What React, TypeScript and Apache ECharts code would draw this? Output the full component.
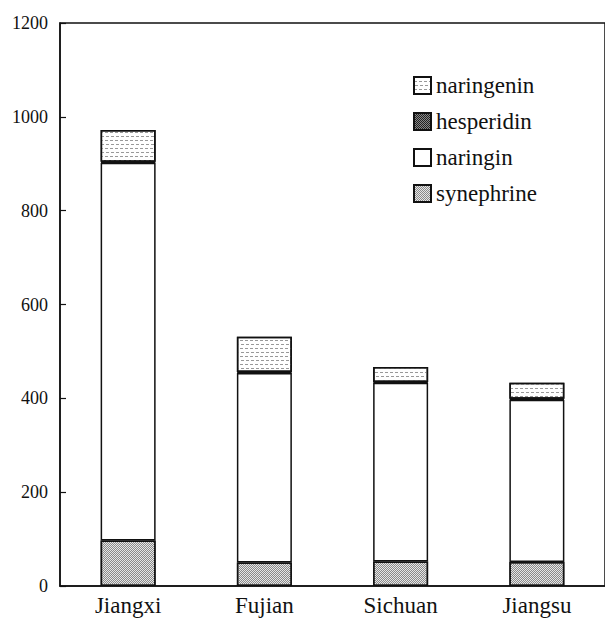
import React, { useEffect, useRef } from "react";
import * as echarts from "echarts";

const categories = ["Jiangxi", "Fujian", "Sichuan", "Jiangsu"];
const synephrine = [97, 50, 52, 51];
const naringin = [805, 404, 381, 346];
const hesperidin = [2, 2, 2, 2];
const naringenin = [68, 75, 32, 34];
const yTicks = [0, 200, 400, 600, 800, 1000, 1200];

const FONT = "Liberation Serif";

export default function App() {
  const ref = useRef<HTMLDivElement>(null);
  useEffect(() => {
    if (!ref.current) return;
    const chart = echarts.init(ref.current, null, { renderer: "svg" });
    const border = { borderColor: "#111", borderWidth: 1.5 };
    const mk = (name: string, data: number[], itemStyle: any) => ({
      name,
      type: "bar",
      stack: "total",
      data,
      barWidth: 55,
      itemStyle: { ...border, ...itemStyle },
      emphasis: { disabled: true },
    });
    chart.setOption({
      animation: false,
      textStyle: { fontFamily: FONT },
      grid: {
        left: 60,
        top: 23,
        bottom: 33,
        right: -2,
        show: true,
        borderColor: "#111",
        borderWidth: 1.5,
        backgroundColor: "transparent",
      },
      legend: {
        orient: "vertical",
        left: 413,
        top: 74,
        padding: 0,
        icon: "rect",
        itemWidth: 17,
        itemHeight: 17,
        itemGap: 13,
        textStyle: { fontFamily: FONT, fontSize: 23, color: "#111", lineHeight: 23 },
        data: ["naringenin", "hesperidin", "naringin", "synephrine"],
      },
      xAxis: {
        type: "category",
        data: categories,
        boundaryGap: true,
        axisLine: { lineStyle: { color: "#111", width: 1.5 } },
        axisTick: { show: false },
        axisLabel: { color: "#111", fontSize: 23, fontFamily: FONT, margin: 8 },
      },
      yAxis: {
        type: "value",
        min: yTicks[0],
        max: yTicks[yTicks.length - 1],
        interval: 200,
        splitLine: { show: false },
        axisLine: { show: true, lineStyle: { color: "#111", width: 1.5 } },
        axisTick: { show: true, inside: true, length: 6, lineStyle: { color: "#111", width: 1.2 } },
        axisLabel: {
          color: "#111",
          fontSize: 18,
          fontFamily: FONT,
          margin: 12,
          formatter: (v: number) => String(v),
        },
      },
      series: [
        mk("synephrine", synephrine, {
          color: "#e6e6e6",
          decal: {
            color: "#8a8a8a",
            symbol: "rect",
            symbolSize: 1,
            dashArrayX: [[1, 1], [0, 1, 1, 0]],
            dashArrayY: [1, 0],
          },
        }),
        mk("naringin", naringin, { color: "#ffffff" }),
        mk("hesperidin", hesperidin, {
          color: "#888",
          decal: {
            color: "#222",
            symbol: "rect",
            symbolSize: 1,
            dashArrayX: [[1, 1], [0, 1, 1, 0]],
            dashArrayY: [1, 0],
          },
        }),
        mk("naringenin", naringenin, {
          color: "#ffffff",
          decal: {
            color: "#999",
            symbol: "rect",
            symbolSize: 1,
            dashArrayX: [[3, 2], [0, 1, 3, 1]],
            dashArrayY: [1, 3],
          },
        }),
      ],
    });
    return () => chart.dispose();
  }, []);
  return <div ref={ref} style={{ width: 605, height: 619, position: "absolute", left: 0, top: 0 }} />;
}
